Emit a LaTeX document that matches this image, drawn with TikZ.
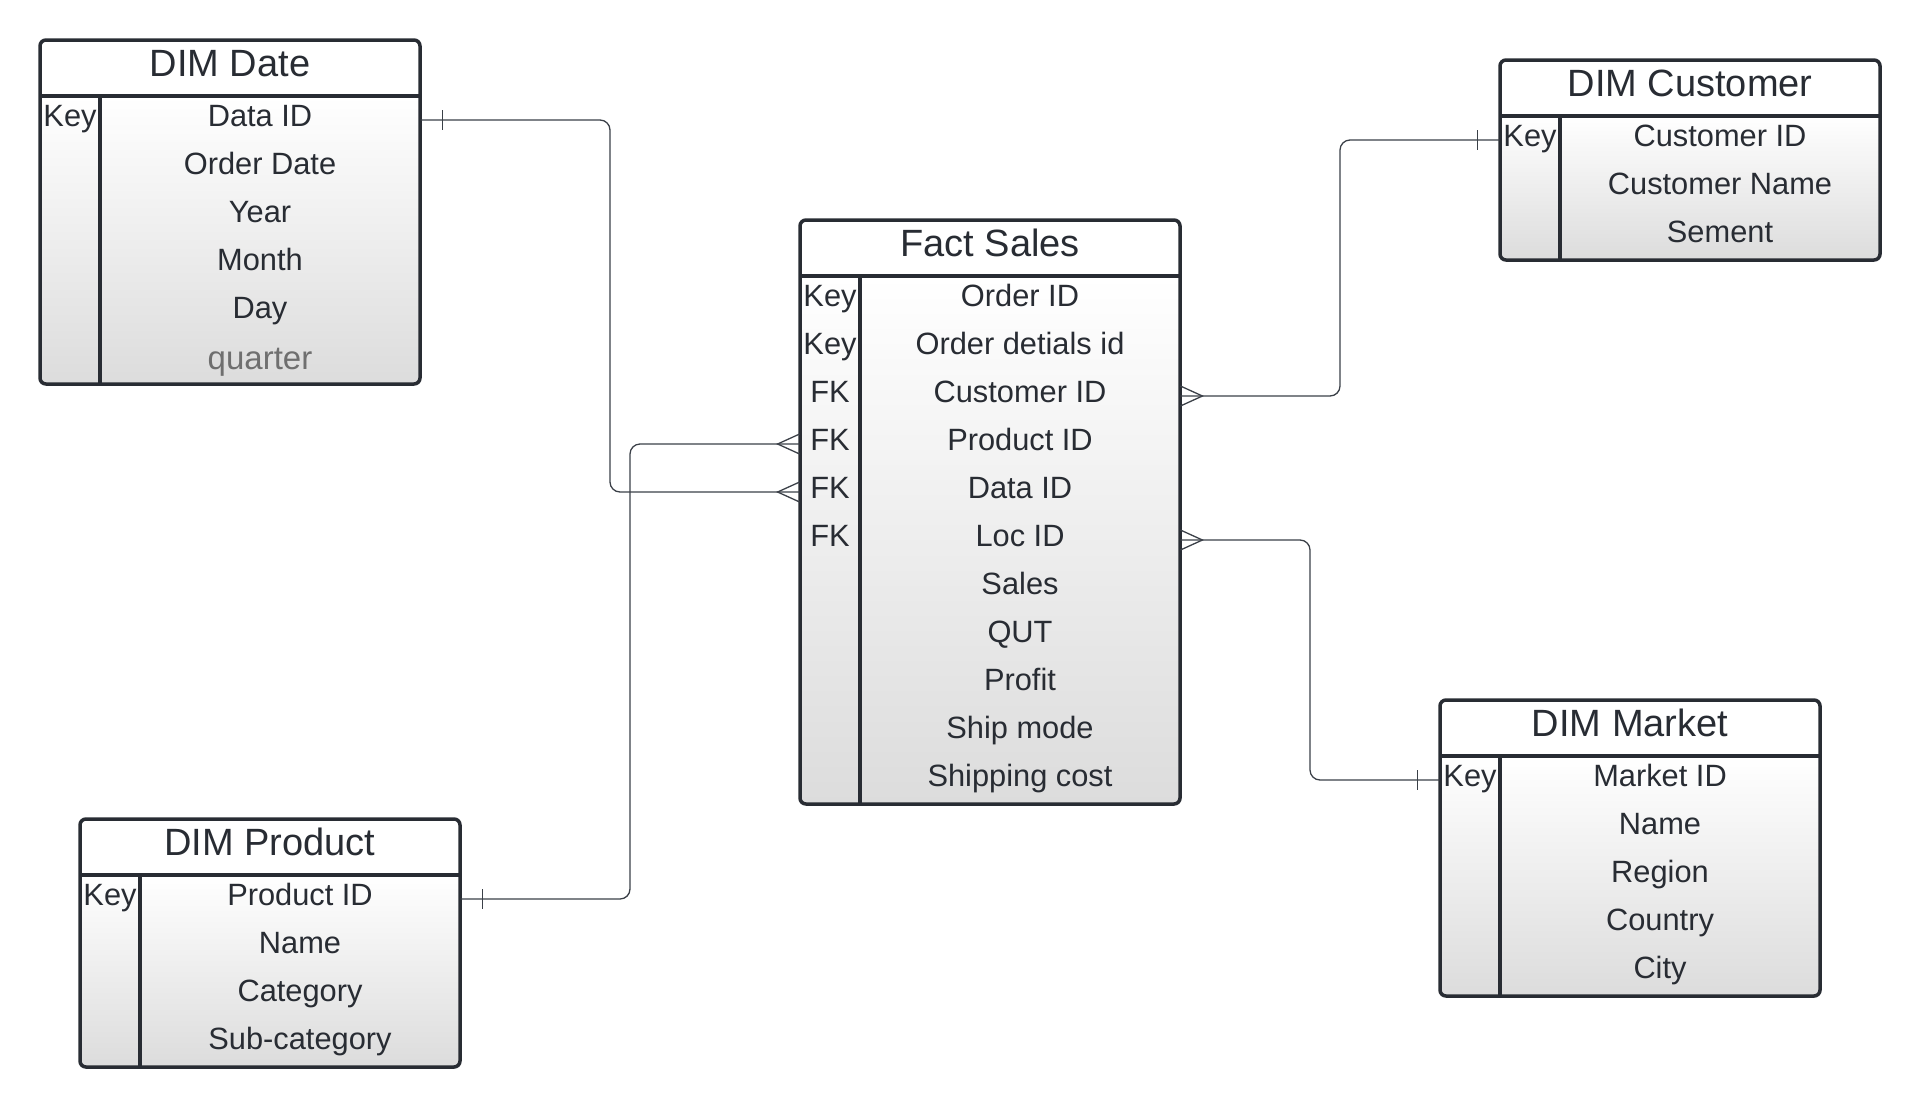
\documentclass[tikz,border=0pt]{standalone}
\usepackage{fontspec}
\setmainfont{Liberation Sans}
\usetikzlibrary{calc}
\definecolor{ink}{HTML}{282C33}
\definecolor{connink}{HTML}{3B4048}
\definecolor{qgray}{HTML}{6F6F6F}
\definecolor{shadebot}{HTML}{DCDCDC}
\tikzset{
  tableborder/.style={draw=ink, line width=1.75pt},
  rowshade/.style={top color=white, bottom color=shadebot},
  titletext/.style={inner sep=0pt, text=ink, text height=11pt, text depth=3pt,
    font=\fontsize{19}{22}\selectfont},
  fieldtext/.style={inner sep=0pt, minimum width=160pt, minimum height=24pt,
    text=ink, text height=9pt, text depth=3pt, font=\fontsize{15.4}{18}\selectfont},
  keytext/.style={fieldtext, minimum width=30pt},
  conn/.style={draw=connink, line width=0.65pt},
  connline/.style={conn, rounded corners=5pt},
}
\newcommand{\ertable}[6]{%
  \pgfmathsetmacro{\ertbot}{#3+56+48*#4}
  \shade[rowshade, rounded corners=3pt] (#2,#3+56) rectangle (#2+380,\ertbot);
  \draw[tableborder] (#2,#3+56) -- (#2+380,#3+56);
  \draw[tableborder] (#2+60,#3+56) -- (#2+60,\ertbot);
  \draw[tableborder, rounded corners=3pt] (#2,#3) rectangle (#2+380,\ertbot);
  \node[titletext] (#1-title) at (#2+190,#3+28) {#5};
  \foreach \k/\f [count=\i from 0] in {#6} {
    \node[keytext] (#1-k\i) at (#2+30,#3+80+48*\i) {\k};
    \node[fieldtext] (#1-f\i) at (#2+220,#3+80+48*\i) {\f};
  }
}
\newcommand{\onebar}[2]{% node anchor, direction (+1 right / -1 left)
  \draw[conn] ($(#1)+(#2*22,-10)$) -- ($(#1)+(#2*22,10)$);
}
\newcommand{\crowfoot}[2]{%
  \draw[conn] ($(#1)+(0,-10)$) -- ($(#1)+(#2*22,0)$) -- ($(#1)+(0,10)$);
}
\begin{document}
\begin{tikzpicture}[x=0.5pt,y=-0.5pt]
\useasboundingbox (0,0) rectangle (1920,1108);

\ertable{date}{40}{40}{6}{DIM Date}{Key/Data ID, {}/Order Date, {}/Year, {}/Month, {}/Day, {}/{\raisebox{-1.5pt}{\fontsize{16.5}{18}\selectfont\color{qgray}quarter}}}
\ertable{fact}{800}{220}{11}{Fact Sales}{Key/Order ID, Key/Order detials id, FK/Customer ID, FK/Product ID, FK/Data ID, FK/Loc ID, {}/Sales, {}/QUT, {}/Profit, {}/Ship mode, {}/Shipping cost}
\ertable{cust}{1500}{60}{3}{DIM Customer}{Key/Customer ID, {}/Customer Name, {}/Sement}
\ertable{mkt}{1440}{700}{5}{DIM Market}{Key/Market ID, {}/Name, {}/Region, {}/Country, {}/City}
\ertable{prod}{80}{819}{4}{DIM Product}{Key/Product ID, {}/Name, {}/Category, {}/Sub-category}

\coordinate (dateBend) at (610,300);
\coordinate (prodBend) at (630,700);
\coordinate (custBend) at (1340,260);
\coordinate (mktBend) at (1310,660);

\draw[connline] (date-f0.east) -| (dateBend) |- (fact-k4.west);
\draw[connline] (prod-f0.east) -| (prodBend) |- (fact-k3.west);
\draw[connline] (fact-f2.east) -| (custBend) |- (cust-k0.west);
\draw[connline] (fact-f5.east) -| (mktBend) |- (mkt-k0.west);

\onebar{date-f0.east}{1}
\onebar{prod-f0.east}{1}
\onebar{cust-k0.west}{-1}
\onebar{mkt-k0.west}{-1}
\crowfoot{fact-k4.west}{-1}
\crowfoot{fact-k3.west}{-1}
\crowfoot{fact-f2.east}{1}
\crowfoot{fact-f5.east}{1}
\end{tikzpicture}
\end{document}
